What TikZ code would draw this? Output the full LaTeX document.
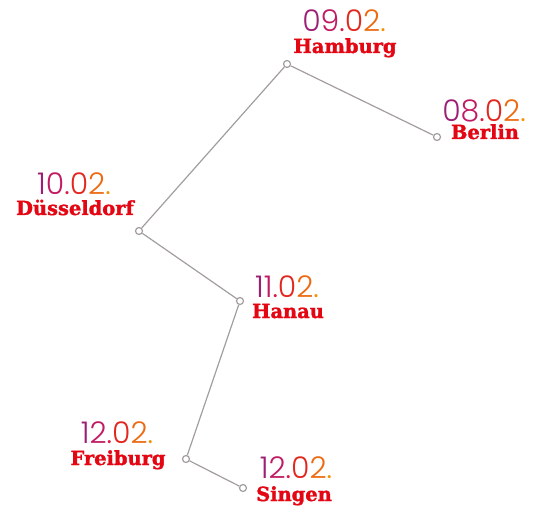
\documentclass[tikz,border=0pt]{standalone}
\usepackage{fontspec}
\newfontfamily\datefont{Poppins Light}
\newfontfamily\cityfont{DejaVu Serif}[BoldFeatures={FakeBold=1.6}]
\definecolor{routegray}{HTML}{A39E9E}
\definecolor{cityred}{HTML}{E30613}
\definecolor{dA}{HTML}{9C1F74}
\definecolor{dB}{HTML}{C01A63}
\definecolor{dC}{HTML}{D81B45}
\definecolor{dD}{HTML}{E2271E}
\definecolor{dE}{HTML}{EC6A12}
\definecolor{dF}{HTML}{F39200}
\newcommand{\tourdate}[6]{\textcolor{dA}{#1}\textcolor{dB}{#2}\textcolor{dC}{#3}\textcolor{dD}{#4}\textcolor{dE}{#5}\textcolor{dF}{#6}}
\tikzset{
    stop/.style={circle, draw=routegray, fill=white, line width=1.2bp, inner sep=0pt, minimum size=7bp},
    route/.style={routegray, line width=1.2bp},
    datelabel/.style={anchor=base, inner sep=0pt, font=\datefont\fontsize{30}{30}\selectfont},
    citylabel/.style={anchor=base, inner sep=0pt, text=cityred, font=\cityfont\bfseries\fontsize{19.5}{19.5}\selectfont},
}
\begin{document}
\begin{tikzpicture}[x=1bp, y=-1bp]
    \useasboundingbox (0,0) rectangle (538,506);

    \node (HH) at (287,64) [stop] {};
    \node (BE) at (437,137) [stop] {};
    \node (D) at (139,231) [stop] {};
    \node (HU) at (240,301) [stop] {};
    \node (FR) at (186,459) [stop] {};
    \node (S) at (243,488) [stop] {};

    % route
    \draw [route] (BE)--(HH);
    \draw [route] (HH)--(D);
    \draw [route] (D)--(HU);
    \draw [route] (HU)--(FR);
    \draw [route] (FR)--(S);

    % dates
    \node (HHdate) at (344,32) [datelabel] {\tourdate{0}{9}{.}{0}{2}{.}};
    \node (BEdate) at (484,122) [datelabel] {\tourdate{0}{8}{.}{0}{2}{.}};
    \node (Ddate) at (74,195) [datelabel] {\tourdate{1}{0}{.}{0}{2}{.}};
    \node (HUdate) at (287,297) [datelabel] {\tourdate{1}{1}{.}{0}{2}{.}};
    \node (FRdate) at (117,443) [datelabel] {\tourdate{1}{2}{.}{0}{2}{.}};
    \node (Sdate) at (296,478) [datelabel] {\tourdate{1}{2}{.}{0}{2}{.}};

    % cities
    \node (HHname) at (345,53) [citylabel] {Hamburg};
    \node (BEname) at (485,139) [citylabel] {Berlin};
    \node (Dname) at (75,215) [citylabel] {Düsseldorf};
    \node (HUname) at (288,318) [citylabel] {Hanau};
    \node (FRname) at (118,465) [citylabel] {Freiburg};
    \node (Sname) at (294,501) [citylabel] {Singen};

\end{tikzpicture}
\end{document}
